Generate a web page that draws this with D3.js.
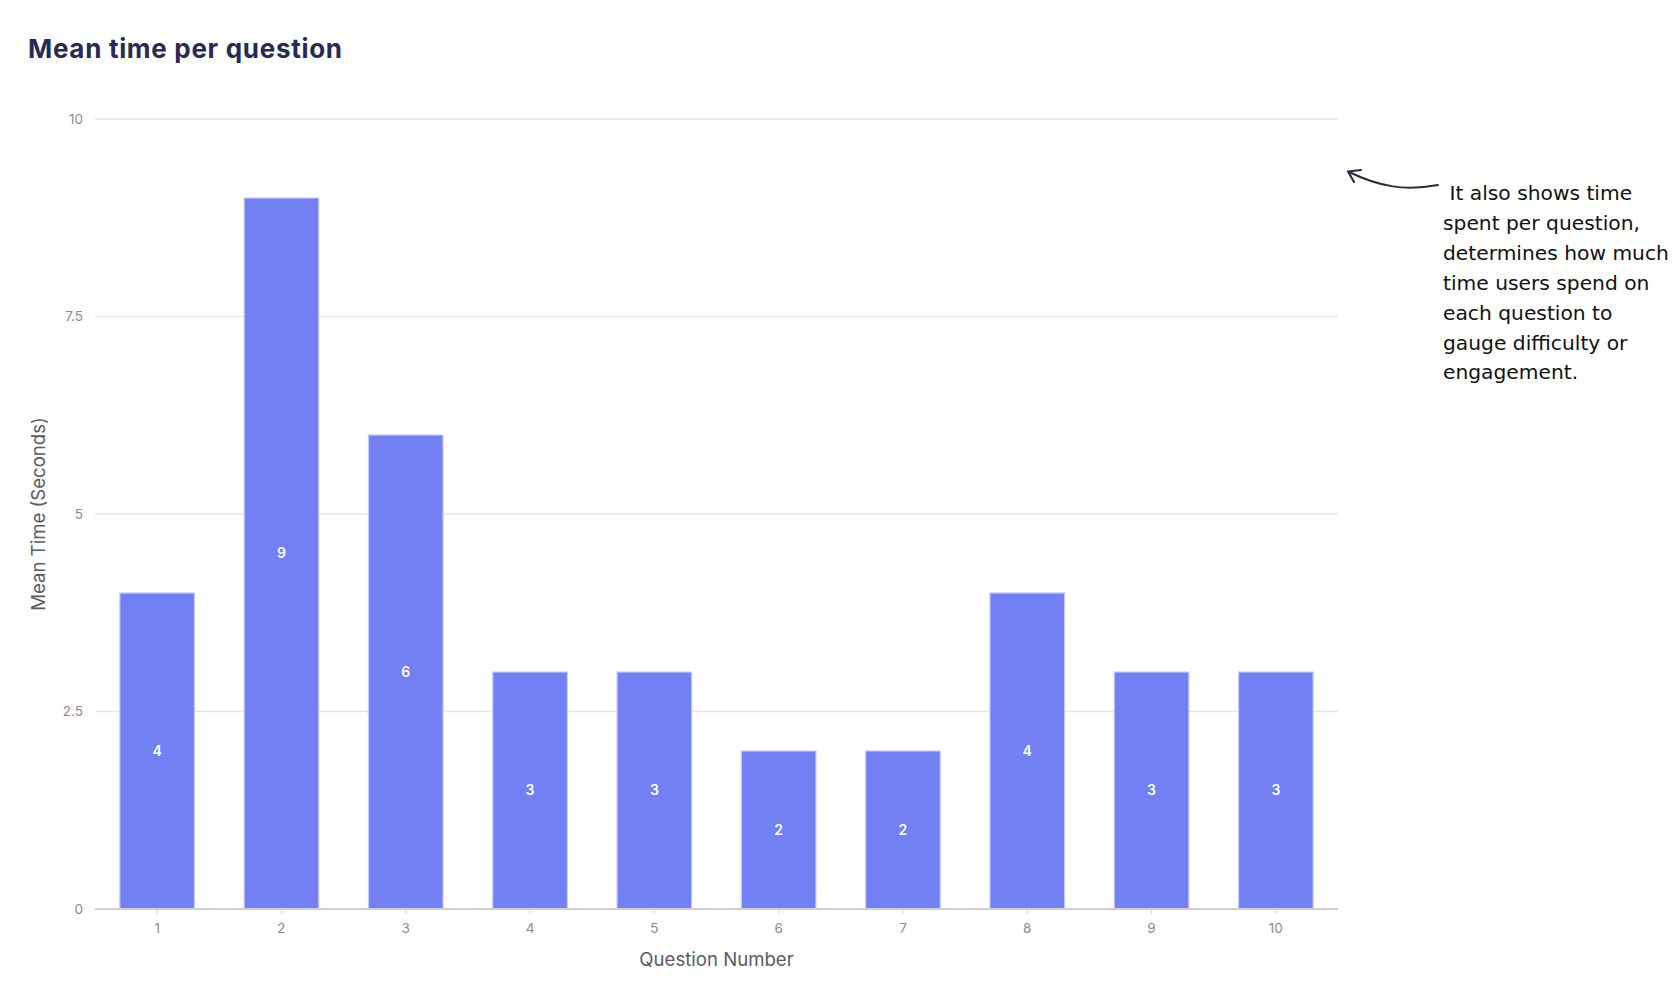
<!DOCTYPE html>
<html>
<head>
<meta charset="utf-8">
<script src="https://cdn.jsdelivr.net/npm/d3@7"></script>
<style>
  html, body { margin: 0; padding: 0; background: #fff; }
  svg { display: block; }
</style>
</head>
<body>
<svg id="chart" width="1673" height="995"></svg>
<script>
const categories = ["1","2","3","4","5","6","7","8","9","10"];
const values = [4, 9, 6, 3, 3, 2, 2, 4, 3, 3];
const yTicks = [0, 2.5, 5, 7.5, 10];
const yTickLabels = ["0", "2.5", "5", "7.5", "10"];
const titleText = "Mean time per question";
const xTitle = "Question Number";
const yTitle = "Mean Time (Seconds)";
const noteLines = [" It also shows time", "spent per question,", "determines how much", "time users spend on", "each question to", "gauge difficulty or", "engagement."];

(function () {
const svg = d3.select("#chart");
const mLeft = 95, mRight = 1338, mTop = 119, mBottom = 909;
const uiFont = "Inter, Roboto, sans-serif";

const x = d3.scaleBand().domain(categories).range([mLeft, mRight]).paddingInner(0.4).paddingOuter(0.2);
const y = d3.scaleLinear().domain([0, 10]).range([mBottom, mTop]);

// Title
const title = svg.append("text").attr("x", 28).attr("y", 58)
  .attr("font-family", uiFont).attr("font-weight", 700)
  .attr("font-size", 26).attr("fill", "#262a55")
  .text(titleText);
const tw = title.node().getComputedTextLength();
title.attr("letter-spacing", (314 - tw) / (titleText.length - 1));

// Gridlines
svg.append("g").selectAll("line").data(yTicks.filter(d => d > 0)).join("line")
  .attr("x1", mLeft).attr("x2", mRight)
  .attr("y1", d => y(d)).attr("y2", d => y(d))
  .attr("stroke", "#e6e6e6").attr("stroke-width", 1.5);

// Y axis labels
const yAxis = d3.axisLeft(y).tickValues(yTicks).tickFormat((d, i) => yTickLabels[i]).tickSize(0).tickPadding(12);
const yg = svg.append("g").attr("transform", `translate(${mLeft},0)`).call(yAxis);
yg.select(".domain").remove();
yg.selectAll("text").attr("font-family", uiFont).attr("font-size", 13.5).attr("fill", "#8a8a8a");

// Bars
svg.append("g").selectAll("rect").data(values).join("rect")
  .attr("x", (d, i) => x(categories[i]))
  .attr("y", d => y(d))
  .attr("width", x.bandwidth())
  .attr("height", d => y(0) - y(d))
  .attr("fill", "#7280f4")
  .attr("stroke", "#c3c9fb").attr("stroke-width", 1.2);

// Bar labels
svg.append("g").selectAll("text").data(values).join("text")
  .attr("x", (d, i) => x(categories[i]) + x.bandwidth() / 2)
  .attr("y", d => (y(d) + y(0)) / 2)
  .attr("dy", "0.35em")
  .attr("text-anchor", "middle")
  .attr("font-family", uiFont).attr("font-weight", 600)
  .attr("font-size", 14).attr("fill", "#ffffff")
  .text(d => d);

// X axis
const xAxis = d3.axisBottom(x).tickSize(5).tickPadding(9);
const xg = svg.append("g").attr("transform", `translate(0,${mBottom})`).call(xAxis);
xg.select(".domain").attr("stroke", "#cfcfd4").attr("stroke-width", 2).attr("d", `M${mLeft},0H${mRight}`);
xg.selectAll(".tick line").attr("stroke", "#d6d6d6");
xg.selectAll("text").attr("font-family", uiFont).attr("font-size", 13.5).attr("fill", "#8a8a8a");

// Axis titles
svg.append("text").attr("x", (mLeft + mRight) / 2).attr("y", 966)
  .attr("text-anchor", "middle")
  .attr("font-family", uiFont).attr("font-size", 18.6).attr("fill", "#5a5a62")
  .text(xTitle);
svg.append("text")
  .attr("transform", `translate(45,${(mTop + mBottom) / 2}) rotate(-90)`)
  .attr("text-anchor", "middle")
  .attr("font-family", uiFont).attr("font-size", 18.6).attr("fill", "#5a5a62")
  .text(yTitle);

// Annotation arrow
svg.append("path")
  .attr("d", "M1438,185 C1405,191 1380,187 1349,172")
  .attr("fill", "none").attr("stroke", "#2a2d3a").attr("stroke-width", 2).attr("stroke-linecap", "round");
svg.append("path")
  .attr("d", "M1361,170 L1348,171.5 L1354,182")
  .attr("fill", "none").attr("stroke", "#2a2d3a").attr("stroke-width", 2.2).attr("stroke-linecap", "round").attr("stroke-linejoin", "round");

// Annotation text
const note = svg.append("g").selectAll("text").data(noteLines).join("text")
  .attr("x", 1443)
  .attr("y", (d, i) => 200 + i * 29.9)
  .attr("font-family", "'DejaVu Sans', 'Noto Sans', sans-serif").attr("font-size", 19).attr("fill", "#111")
  .style("white-space", "pre")
  .text(d => d);
const ref = note.filter((d, i) => i === 2).node().getComputedTextLength();
note.attr("font-size", 19 * 226 / ref);
})();
</script>
</body>
</html>
